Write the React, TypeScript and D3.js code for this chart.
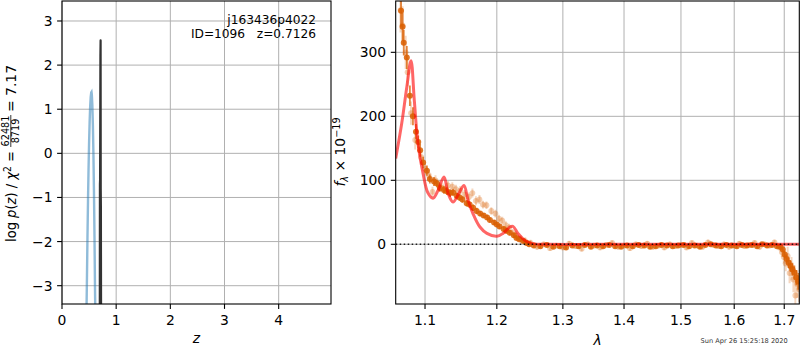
import * as d3 from "d3";

const W = 800;
const H = 350;
const font = "DejaVu Sans";
const fs = 13.9;

// left panel: p(z)
const pzBox = { left: 62, right: 331, top: 1, bottom: 304 };
const zTicks = [0, 1, 2, 3, 4];
const logpTicks = [-3, -2, -1, 0, 1, 2, 3];

const fitZ = [0.452, 0.46, 0.47, 0.48, 0.49, 0.5, 0.51, 0.52, 0.53, 0.54, 0.545, 0.55, 0.56, 0.57, 0.58, 0.59, 0.6, 0.61, 0.615];
const fitLogp = [-3.6, -2.89, -1.92, -1.08, -0.36, 0.24, 0.71, 1.06, 1.28, 1.38, 1.39, 1.34, 1.1, 0.65, 0.0, -0.85, -1.9, -3.15, -3.6];

const bestZ = [0.698, 0.7, 0.703, 0.709, 0.7126, 0.715, 0.718, 0.721];
const bestLogp = [-3.6, -0.7, -0.6, 2.2, 2.56, -0.8, -1.2, -3.6];

// right panel: spectrum
const spBox = { left: 395.7, right: 799.3, top: 1, bottom: 304 };
const lamTicks = [1.1, 1.2, 1.3, 1.4, 1.5, 1.6, 1.7];
const fluxTicks = [0, 100, 200, 300];

const modelLam = [1.0616, 1.0694, 1.0759, 1.0815, 1.0858, 1.0907, 1.0973, 1.104, 1.1107, 1.1174, 1.1256, 1.1311, 1.1379, 1.1462, 1.1532, 1.1588, 1.1658, 1.1757, 1.1857, 1.2002, 1.2089, 1.2192, 1.2237, 1.2311, 1.2416, 1.2537, 1.28, 1.4, 1.55, 1.7313];
const modelFlux = [134, 189, 245, 287, 225, 157, 111, 80, 72, 84, 105, 80, 66, 80, 92, 69, 48, 27, 17, 12.5, 17, 27, 28, 17, 6, 1, 0, 0, 0, 0];

const darkLam = [1.0672, 1.0685, 1.0705, 1.072, 1.076, 1.08, 1.084, 1.088, 1.091, 1.0935, 1.0975, 1.1025, 1.1065, 1.112, 1.116, 1.12, 1.1255, 1.1295, 1.134, 1.138, 1.143, 1.147, 1.151, 1.157, 1.161, 1.166, 1.171, 1.176, 1.181, 1.186, 1.19, 1.196, 1.2, 1.204, 1.21, 1.214, 1.219, 1.225, 1.229, 1.233, 1.239, 1.244, 1.248,
  1.255, 1.265, 1.275, 1.285, 1.295, 1.305, 1.315, 1.325, 1.335, 1.345, 1.355, 1.365, 1.375, 1.385, 1.395, 1.405, 1.415, 1.425, 1.435, 1.445, 1.455, 1.465, 1.475, 1.485, 1.495, 1.505, 1.515, 1.525, 1.535, 1.545, 1.555, 1.565, 1.575, 1.585, 1.595, 1.605, 1.615, 1.625, 1.635, 1.645, 1.655, 1.665, 1.675, 1.685,
  1.692, 1.697, 1.701, 1.705, 1.709, 1.713, 1.717, 1.721, 1.725, 1.729];
const darkFlux = [410, 365, 340, 315, 292, 232, 200, 176, 160, 147, 128, 115, 102, 98, 95, 88, 85, 83, 80, 81, 76, 73, 70, 64, 62, 57, 52, 48, 45, 42, 38, 34, 31, 28, 24, 21, 18, 14, 10, 8, 5, 2, 0,
  -2, -3, -1, -4, -3, -5, -2, -3, -1, -4, -2, -3, -1, -3, -4, -2, -3, -1, -2, -4, -3, -1, -2, -3, -2, -1, -3, -2, -4, -1, 0, -2, -3, -1, -2, -3, -1, -2, -1, -3, 0, -2, -1, -3,
  -4, -8, -16, -23, -29, -34, -39, -44, -52, -58];
const darkErr = [30, 25, 22, 20, 18, 16, 14, 12, 10, 10, 9, 8, 7, 7, 6, 6, 6, 6, 6, 5, 5, 5, 5, 5, 5, 5, 5, 4, 4, 4, 4, 4, 4, 4, 4, 4, 4, 4, 3, 3, 3, 3, 3,
  3, 3, 3, 3, 3, 3, 3, 3, 3, 3, 3, 3, 3, 3, 3, 3, 3, 3, 3, 3, 3, 3, 3, 3, 3, 3, 3, 3, 3, 3, 3, 3, 3, 3, 3, 3, 3, 3, 3, 3, 3, 3, 3, 3,
  4, 5, 6, 7, 8, 9, 10, 11, 12, 13];

const lightLam = [1.0678, 1.0705, 1.0745, 1.077, 1.0815, 1.087, 1.095, 1.1, 1.105, 1.11, 1.114, 1.119, 1.124, 1.131, 1.137, 1.142, 1.148, 1.154, 1.16, 1.165, 1.17, 1.175, 1.18, 1.185, 1.192, 1.198, 1.203, 1.208, 1.213, 1.218, 1.223, 1.228, 1.235, 1.242, 1.25,
  1.26, 1.27, 1.28, 1.29, 1.3, 1.31, 1.32, 1.33, 1.34, 1.35, 1.36, 1.37, 1.38, 1.39, 1.4, 1.41, 1.42, 1.43, 1.44, 1.45, 1.46, 1.47, 1.48, 1.49, 1.5, 1.51, 1.52, 1.53, 1.54, 1.55, 1.56, 1.57, 1.58, 1.59, 1.6, 1.61, 1.62, 1.63, 1.64, 1.65, 1.66, 1.67, 1.68, 1.69,
  1.695, 1.699, 1.703, 1.707, 1.711, 1.715, 1.719, 1.723, 1.727, 1.731];
const lightFlux = [366, 342, 300, 269, 205, 163, 136, 118, 108, 82, 100, 92, 88, 92, 90, 86, 84, 78, 74, 80, 68, 70, 62, 61, 52, 48, 40, 37, 30, 26, 18, 14, 8, 5, 2,
  -4, 0, -6, -2, -5, 1, -3, -7, 0, -2, -5, -1, 2, -4, -2, -6, 0, -3, 1, -4, -2, -5, 0, -3, -1, -5, 2, -2, -4, 3, -1, -3, 0, -4, -2, 1, -3, -1, 2, -4, 0, -2, 3, -5,
  -12, -20, -30, -18, -45, -38, -55, -80, -62, -70];
const lightErr = [35, 30, 26, 22, 18, 15, 12, 10, 9, 8, 8, 8, 7, 7, 7, 7, 7, 7, 7, 7, 7, 7, 6, 6, 6, 6, 6, 6, 6, 6, 6, 6, 6, 6, 5,
  4, 4, 4, 4, 4, 4, 4, 4, 4, 4, 4, 4, 4, 4, 4, 4, 4, 4, 4, 4, 4, 4, 4, 4, 4, 4, 4, 4, 4, 4, 4, 4, 4, 4, 4, 4, 4, 4, 4, 4, 4, 4, 4, 4,
  8, 10, 12, 14, 16, 18, 20, 25, 22, 20];

const orange = "#d95f02";
const gridColor = "#b0b0b0";

const minus = (v: number) => (v < 0 ? `\u2212${-v}` : `${v}`);

export default function App() {
  const zx = d3.scaleLinear().domain([0, 4.966]).range([pzBox.left, pzBox.right]);
  const zy = d3.scaleLinear().domain([-3.415, 3.453]).range([pzBox.bottom, pzBox.top]);
  const lx = d3.scaleLog().domain([1.0616, 1.7313]).range([spBox.left, spBox.right]);
  const ly = d3.scaleLinear().domain([-93.3, 380.2]).range([spBox.bottom, spBox.top]);

  const pzLine = d3
    .line<number>()
    .x((_, i) => zx(fitZ[i]))
    .y((d) => zy(d));
  const bestLine = d3
    .line<number>()
    .x((_, i) => zx(bestZ[i]))
    .y((d) => zy(d));
  const modelLine = d3
    .line<number>()
    .x((_, i) => lx(modelLam[i]))
    .y((d) => ly(d))
    .curve(d3.curveCatmullRom);

  const tickLen = 4.9;

  return (
    <svg
      width={W}
      height={H}
      style={{ position: "absolute", left: 0, top: 0, background: "#fff" }}
      fontFamily={font}
    >
      <defs>
        <clipPath id="clipPz">
          <rect x={pzBox.left} y={pzBox.top} width={pzBox.right - pzBox.left} height={pzBox.bottom - pzBox.top} />
        </clipPath>
        <clipPath id="clipSp">
          <rect x={spBox.left} y={spBox.top} width={spBox.right - spBox.left} height={spBox.bottom - spBox.top} />
        </clipPath>
      </defs>
      <rect width={W} height={H} fill="#fff" />

      {/* ---- left panel ---- */}
      <g>
        {zTicks.map((t) => (
          <line key={"zg" + t} x1={zx(t)} x2={zx(t)} y1={pzBox.top} y2={pzBox.bottom} stroke={gridColor} strokeWidth={1} />
        ))}
        {logpTicks.map((t) => (
          <line key={"lg" + t} x1={pzBox.left} x2={pzBox.right} y1={zy(t)} y2={zy(t)} stroke={gridColor} strokeWidth={1} />
        ))}
        <g clipPath="url(#clipPz)">
          <path d={pzLine(fitLogp) ?? ""} fill="none" stroke="#1f77b4" strokeOpacity={0.5} strokeWidth={2.4} />
          <path d={bestLine(bestLogp) ?? ""} fill="none" stroke="#333" strokeWidth={2.2} strokeLinejoin="round" />
        </g>
        <rect x={pzBox.left} y={pzBox.top} width={pzBox.right - pzBox.left} height={pzBox.bottom - pzBox.top} fill="none" stroke="#000" strokeWidth={1.1} />
        {zTicks.map((t) => (
          <g key={"zt" + t}>
            <line x1={zx(t)} x2={zx(t)} y1={pzBox.bottom} y2={pzBox.bottom + tickLen} stroke="#000" strokeWidth={1.1} />
            <text x={zx(t)} y={325} fontSize={fs} textAnchor="middle">{t}</text>
          </g>
        ))}
        {logpTicks.map((t) => (
          <g key={"lt" + t}>
            <line x1={pzBox.left - tickLen} x2={pzBox.left} y1={zy(t)} y2={zy(t)} stroke="#000" strokeWidth={1.1} />
            <text x={pzBox.left - 9.5} y={zy(t)} dy="0.36em" fontSize={fs} textAnchor="end">{minus(t)}</text>
          </g>
        ))}
        <text x={(pzBox.left + pzBox.right) / 2} y={343} fontSize={fs} textAnchor="middle" fontStyle="italic">z</text>
        <text x={316} y={23.5} fontSize={12.2} textAnchor="end">j163436p4022</text>
        <text x={316} y={38} fontSize={12.2} textAnchor="end" style={{ whiteSpace: "pre" }}>{"ID=1096   z=0.7126"}</text>

        <g transform="translate(16,242) rotate(-90)" fontSize={fs}>
          <text x={0} y={0} textLength={91} lengthAdjust="spacingAndGlyphs">
            log <tspan fontStyle="italic">p</tspan>(<tspan fontStyle="italic">z</tspan>) / <tspan fontStyle="italic">χ</tspan>
            <tspan fontSize={9.7} dy={-5}>2</tspan>
            <tspan dy={5}> =</tspan>
          </text>
          <text x={111} y={-6.8} fontSize={9.7} textAnchor="middle">62481</text>
          <line x1={95} x2={127} y1={-5.2} y2={-5.2} stroke="#000" strokeWidth={0.8} />
          <text x={111} y={3.2} fontSize={9.7} textAnchor="middle">8719</text>
          <text x={130} y={0}>= 7.17</text>
        </g>
      </g>

      {/* ---- right panel ---- */}
      <g>
        {lamTicks.map((t) => (
          <line key={"xg" + t} x1={lx(t)} x2={lx(t)} y1={spBox.top} y2={spBox.bottom} stroke={gridColor} strokeWidth={1} />
        ))}
        {fluxTicks.map((t) => (
          <line key={"yg" + t} x1={spBox.left} x2={spBox.right} y1={ly(t)} y2={ly(t)} stroke={gridColor} strokeWidth={1} />
        ))}
        <g clipPath="url(#clipSp)">
          {lightLam.map((l, i) => (
            <g key={"lp" + i}>
              <line x1={lx(l)} x2={lx(l)} y1={ly(lightFlux[i] - lightErr[i])} y2={ly(lightFlux[i] + lightErr[i])} stroke={orange} strokeOpacity={0.25} strokeWidth={2} />
              <circle cx={lx(l)} cy={ly(lightFlux[i])} r={2.9} fill={orange} fillOpacity={0.3} />
            </g>
          ))}
          {darkLam.map((l, i) => (
            <g key={"dp" + i}>
              <line x1={lx(l)} x2={lx(l)} y1={ly(darkFlux[i] - darkErr[i])} y2={ly(darkFlux[i] + darkErr[i])} stroke={orange} strokeOpacity={0.75} strokeWidth={1.8} />
              <circle cx={lx(l)} cy={ly(darkFlux[i])} r={3} fill={orange} fillOpacity={0.85} />
            </g>
          ))}
          <path d={modelLine(modelFlux) ?? ""} fill="none" stroke="red" strokeOpacity={0.6} strokeWidth={3} />
          <line x1={spBox.left} x2={spBox.right} y1={ly(0)} y2={ly(0)} stroke="#000" strokeWidth={1.5} strokeDasharray="1.5,2.5" strokeOpacity={0.85} />
        </g>
        <rect x={spBox.left} y={spBox.top} width={spBox.right - spBox.left} height={spBox.bottom - spBox.top} fill="none" stroke="#000" strokeWidth={1.1} />
        {lamTicks.map((t) => (
          <g key={"xt" + t}>
            <line x1={lx(t)} x2={lx(t)} y1={spBox.bottom} y2={spBox.bottom + tickLen} stroke="#000" strokeWidth={1.1} />
            <text x={lx(t)} y={325} fontSize={fs} textAnchor="middle">{t.toFixed(1)}</text>
          </g>
        ))}
        {fluxTicks.map((t) => (
          <g key={"yt" + t}>
            <line x1={spBox.left - tickLen} x2={spBox.left} y1={ly(t)} y2={ly(t)} stroke="#000" strokeWidth={1.1} />
            <text x={spBox.left - 9.5} y={ly(t)} dy="0.36em" fontSize={fs} textAnchor="end">{minus(t)}</text>
          </g>
        ))}
        <text x={(spBox.left + spBox.right) / 2} y={345} fontSize={fs} textAnchor="middle" fontStyle="italic">λ</text>
        <g transform="translate(345,152) rotate(-90)" fontSize={fs}>
          <text x={0} y={0} textAnchor="middle">
            <tspan fontStyle="italic">f</tspan>
            <tspan fontSize={9.7} dy={3} fontStyle="italic">λ</tspan>
            <tspan dy={-3}> × 10</tspan>
            <tspan fontSize={9.7} dy={-5.5}>−19</tspan>
          </text>
        </g>
        <text x={787.7} y={342.5} fontSize={6.6} textAnchor="end" fill="#333">Sun Apr 26 15:25:18 2020</text>
      </g>
    </svg>
  );
}
